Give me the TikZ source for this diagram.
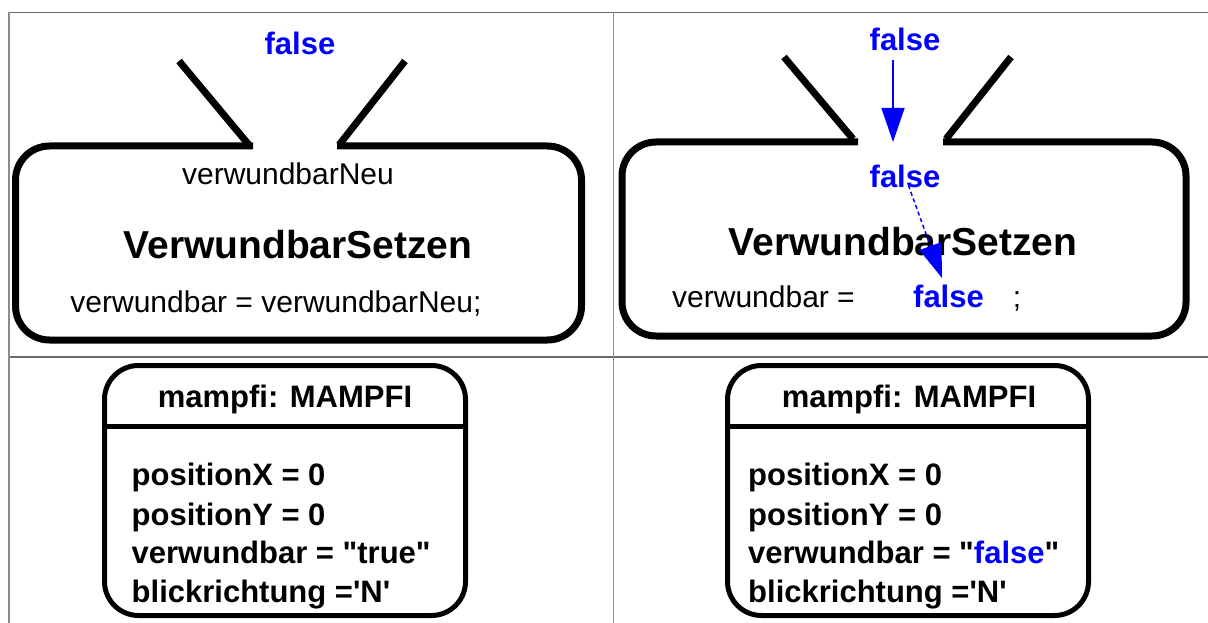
\documentclass[tikz,border=0pt]{standalone}
\usepackage{fontspec}
\newfontfamily\arialfont{Liberation Sans}
\usetikzlibrary{arrows.meta,calc}
\definecolor{fblue}{RGB}{0,0,255}
\definecolor{gridgray}{RGB}{105,105,105}
\definecolor{gridlight}{RGB}{140,140,140}
\begin{document}
\begin{tikzpicture}[x=1pt,y=-1pt,
  gridline/.style={draw=gridgray,line width=1.3pt},
  gridvert/.style={draw=gridlight,line width=1.8pt},
  statebox/.style={draw=black,line width=7pt,rounded corners=34pt},
  funnel/.style={draw=black,line width=7pt},
  objbox/.style={draw=black,line width=5pt,rounded corners=34pt,minimum width=361pt,minimum height=250pt,inner sep=0pt},
  divider/.style={draw=black,line width=5pt},
  txt/.style={inner sep=0pt,anchor=base,font={\arialfont\fontsize{30}{30}\selectfont}},
  boldtxt/.style={inner sep=0pt,anchor=base,font={\arialfont\bfseries\fontsize{31}{31}\selectfont}},
  valtxt/.style={boldtxt,text=fblue},
  titletxt/.style={inner sep=0pt,anchor=base,font={\arialfont\bfseries\fontsize{39}{39}\selectfont}},
  attrtxt/.style={boldtxt,anchor=base west},
  flow/.style={draw=fblue,line width=1.5pt,-{Triangle[length=34pt,width=23pt]}},
]
\useasboundingbox (0,0) rectangle (1208,623);
% table grid
\draw[gridline] (8,12.5) -- (1208,12.5);
\draw[gridline] (8,357) -- (1208,357);
\draw[gridvert] (8.8,12) -- (8.8,623);
\draw[gridvert] (613.5,12) -- (613.5,623);

% ---------- top left ----------
\draw[statebox] (253,146) -- (15.5,146) -- (15.5,340) -- (581.5,340) -- (581.5,146) -- (337,146);
\draw[funnel] (179,61) -- (249,145);
\draw[funnel] (405,61) -- (339,145);
\node[valtxt] (lf) at (300,55) {false};
\node[txt] (lparam) at (288,185) {verwundbarNeu};
\node[titletxt] (ltitle) at (298,258) {VerwundbarSetzen};
\node[txt] (lassign) at (276,312) {verwundbar = verwundbarNeu;};

% ---------- top right ----------
\draw[statebox] (858,142) -- (622,142) -- (622,336) -- (1186,336) -- (1186,142) -- (943,142);
\draw[funnel] (784,57) -- (853,139);
\draw[funnel] (1011,57) -- (946,139);
\node[valtxt] (f1) at (905,51) {false};
\node[valtxt] (f2) at (905,187) {false};
\node[titletxt] (rtitle) at (903,255) {VerwundbarSetzen};
\node[txt,anchor=base west] (rassign) at (672,307) {verwundbar =};
\node[valtxt] (f3) at (948.5,307) {false};
\node[txt] (rsemi) at (1017,307) {;};
\coordinate (atip) at (893,142);
\draw[flow,shorten <=8pt] (f1.south -| atip) -- (atip);
\draw[flow,dash pattern=on 4pt off 3pt,shorten <=10pt,shorten >=19pt] (f2.center) -- (f3.center);

% ---------- bottom left ----------
\node[objbox] (o1) at (285,490.5) {};
\draw[divider] (o1.west |- 0,426) -- (o1.east |- 0,426);
\node[boldtxt] (o1name) at (285,407) {mampfi: MAMPFI};
\node[attrtxt] (o1a) at (131.5,485) {positionX = 0};
\node[attrtxt] (o1b) at (131.5,525) {positionY = 0};
\node[attrtxt] (o1c) at (131.5,563) {verwundbar = "true"};
\node[attrtxt] (o1d) at (131.5,602) {blickrichtung ='N'};

% ---------- bottom right ----------
\node[objbox] (o2) at (908,490.5) {};
\draw[divider] (o2.west |- 0,426) -- (o2.east |- 0,426);
\node[boldtxt] (o2name) at (909,407) {mampfi: MAMPFI};
\node[attrtxt] (o2a) at (748,485) {positionX = 0};
\node[attrtxt] (o2b) at (748,525) {positionY = 0};
\node[attrtxt] (o2c) at (748,563) {verwundbar = "\textcolor{fblue}{false}"};
\node[attrtxt] (o2d) at (748,602) {blickrichtung ='N'};
\end{tikzpicture}
\end{document}
